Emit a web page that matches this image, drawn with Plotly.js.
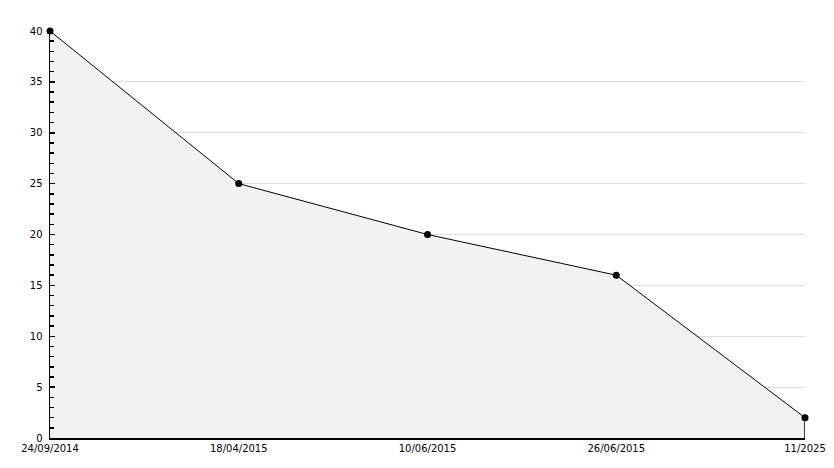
<!DOCTYPE html>
<html>
<head>
<meta charset="utf-8">
<script src="https://cdn.plot.ly/plotly-3.0.1.min.js"></script>
<style>html,body{margin:0;padding:0;background:#fff;}#chart{width:834px;height:468px;}</style>
</head>
<body>
<div id="chart"></div>
<script>
var categories = ["24/09/2014", "18/04/2015", "10/06/2015", "26/06/2015", "11/2025"];
var values = [40, 25, 20, 16, 2];
var yTicks = [0, 5, 10, 15, 20, 25, 30, 35, 40];

var lastCat = categories[categories.length - 1];
var lastVal = values[values.length - 1];

var traces = [
  {
    x: categories, y: values, type: 'scatter', mode: 'lines+markers',
    fill: 'tozeroy', fillcolor: '#f2f2f2', cliponaxis: false,
    line: {color: '#000', width: 1},
    marker: {color: '#000', size: 7, symbol: 'circle'},
    hoverinfo: 'skip'
  },
  {
    x: [lastCat, lastCat], y: [0, lastVal], type: 'scatter', mode: 'lines',
    line: {color: '#000', width: 1.5}, hoverinfo: 'skip', cliponaxis: false
  }
];

var layout = {
  width: 834, height: 468,
  margin: {l: 50, r: 29, t: 31, b: 30},
  paper_bgcolor: '#fff', plot_bgcolor: '#fff',
  showlegend: false,
  font: {family: 'DejaVu Sans, sans-serif', size: 10, color: '#000'},
  xaxis: {
    type: 'category', categoryorder: 'array', categoryarray: categories,
    range: [0, categories.length - 1],
    showgrid: false, zeroline: false,
    showline: true, linecolor: '#000', linewidth: 1.5,
    ticks: '', tickfont: {size: 10, color: '#000'}
  },
  yaxis: {
    range: [0, 40], tickvals: yTicks, ticktext: yTicks.map(String),
    showgrid: true, gridcolor: '#dddddd', gridwidth: 1,
    zeroline: false, showline: true, linecolor: '#000', linewidth: 1.5,
    ticks: 'inside', ticklen: 5, tickcolor: '#000', tickwidth: 1.5,
    ticklabelstandoff: 4,
    minor: {dtick: 1, ticks: 'inside', ticklen: 4, tickcolor: '#000', tickwidth: 1.5, showgrid: false},
    tickfont: {size: 10, color: '#000'}
  }
};

Plotly.newPlot('chart', traces, layout, {displayModeBar: false, staticPlot: true});
</script>
</body>
</html>
